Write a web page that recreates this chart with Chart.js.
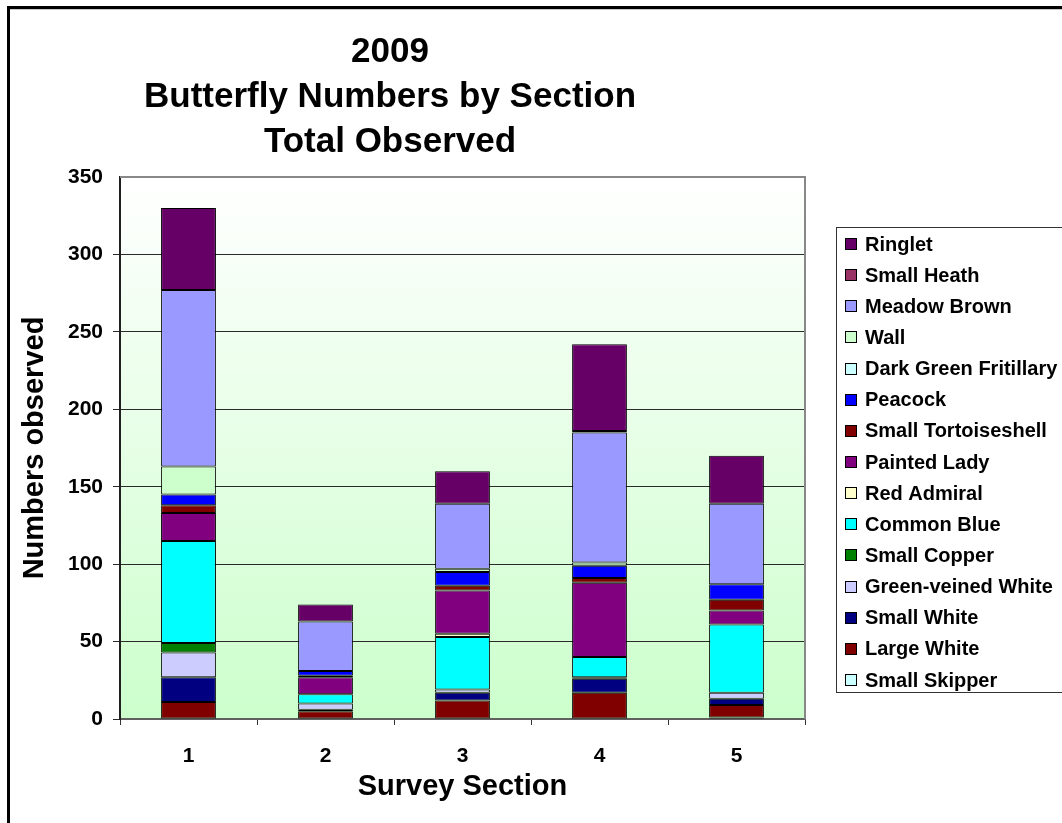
<!DOCTYPE html>
<html>
<head>
<meta charset="utf-8">
<title>2009 Butterfly Numbers by Section</title>
<script src="https://cdn.jsdelivr.net/npm/chart.js@4.4.1/dist/chart.umd.min.js"></script>
<style>
  html, body { margin: 0; padding: 0; background: #ffffff; }
  #wrap { position: relative; width: 1062px; height: 823px; }
  canvas { display: block; }
</style>
</head>
<body>
<div id="wrap"><canvas id="chart" width="1062" height="823"></canvas></div>
<script>
// Survey sections (x categories)
const sections = ['1', '2', '3', '4', '5'];

// Counts per species, listed from the bottom of each stack upwards
const smallSkipper        = [0, 0, 0, 0, 1];
const largeWhite          = [11, 5, 12, 17, 8];
const smallWhite          = [16, 1, 5, 9, 4];
const greenVeinedWhite    = [16, 4, 2, 1, 4];
const smallCopper         = [6, 0, 0, 0, 0];
const commonBlue          = [66, 6, 34, 13, 44];
const redAdmiral          = [0, 0, 2, 0, 0];
const paintedLady         = [18, 11, 28, 48, 9];
const smallTortoiseshell  = [5, 1, 3, 3, 7];
const peacock             = [7, 3, 9, 8, 10];
const darkGreenFritillary = [0, 0, 0, 0, 0];
const wall                = [18, 0, 2, 2, 0];
const meadowBrown         = [114, 32, 42, 84, 52];
const smallHeath          = [0, 0, 0, 1, 0];
const ringlet             = [53, 11, 21, 56, 31];

// Y axis ticks
const yTicks = [0, 50, 100, 150, 200, 250, 300, 350];

const titleLines = ['2009', 'Butterfly Numbers by Section', 'Total Observed'];
const yAxisTitle = 'Numbers observed';
const xAxisTitle = 'Survey Section';

const FONT = '"Liberation Sans", Arial, Helvetica, sans-serif';

const series = [
  { label: 'Small Skipper',         data: smallSkipper,        color: '#CCFFFF' },
  { label: 'Large White',           data: largeWhite,          color: '#800000' },
  { label: 'Small White',           data: smallWhite,          color: '#000080' },
  { label: 'Green-veined White',    data: greenVeinedWhite,    color: '#CCCCFF' },
  { label: 'Small Copper',          data: smallCopper,         color: '#008000' },
  { label: 'Common Blue',           data: commonBlue,          color: '#00FFFF' },
  { label: 'Red Admiral',           data: redAdmiral,          color: '#FFFFCC' },
  { label: 'Painted Lady',          data: paintedLady,         color: '#800080' },
  { label: 'Small Tortoiseshell',   data: smallTortoiseshell,  color: '#800000' },
  { label: 'Peacock',               data: peacock,             color: '#0000FF' },
  { label: 'Dark Green Fritillary', data: darkGreenFritillary, color: '#CCFFFF' },
  { label: 'Wall',                  data: wall,                color: '#CCFFCC' },
  { label: 'Meadow Brown',          data: meadowBrown,         color: '#9999FF' },
  { label: 'Small Heath',           data: smallHeath,          color: '#993366' },
  { label: 'Ringlet',               data: ringlet,             color: '#660066' }
];

const datasets = series.map(s => ({
  label: s.label,
  data: s.data,
  backgroundColor: s.color,
  borderColor: '#000000',
  borderWidth: 1,
  borderSkipped: false,
  categoryPercentage: 1.0,
  barPercentage: 0.4
}));

// Page frame, plot background gradient and plot frame
const framePlugin = {
  id: 'frame',
  beforeDraw(chart) {
    const ctx = chart.ctx;
    const a = chart.chartArea;
    ctx.save();
    ctx.fillStyle = '#ffffff';
    ctx.fillRect(0, 0, chart.width, chart.height);
    const g = ctx.createLinearGradient(0, a.top, 0, a.bottom);
    g.addColorStop(0, '#FFFFFF');
    g.addColorStop(1, '#CCFFCC');
    ctx.fillStyle = g;
    ctx.fillRect(a.left, a.top, a.right - a.left, a.bottom - a.top);
    ctx.restore();
  },
  afterDraw(chart) {
    const ctx = chart.ctx;
    const a = chart.chartArea;
    ctx.save();
    // plot frame (top and right)
    ctx.strokeStyle = '#888888';
    ctx.lineWidth = 2;
    ctx.beginPath();
    ctx.moveTo(a.left, a.top);
    ctx.lineTo(a.right, a.top);
    ctx.lineTo(a.right, a.bottom);
    ctx.stroke();
    // outer frame
    ctx.strokeStyle = '#C8C8C8';
    ctx.lineWidth = 1;
    ctx.beginPath();
    ctx.moveTo(10, 9.5);
    ctx.lineTo(chart.width, 9.5);
    ctx.stroke();
    ctx.fillStyle = '#000000';
    ctx.fillRect(7, 6, chart.width - 7, 3);
    ctx.fillRect(7, 6, 3, chart.height - 6);
    ctx.restore();
  }
};

// Three-line heading
const headingPlugin = {
  id: 'heading',
  afterDraw(chart) {
    const ctx = chart.ctx;
    ctx.save();
    ctx.fillStyle = '#000000';
    ctx.font = 'bold 35px ' + FONT;
    ctx.textAlign = 'center';
    ctx.textBaseline = 'middle';
    const ys = [52, 97, 142];
    titleLines.forEach((t, i) => ctx.fillText(t, 390, ys[i]));
    ctx.restore();
  }
};

// Boxed legend, top entry = top of stack
const legendPlugin = {
  id: 'boxLegend',
  afterDraw(chart) {
    const ctx = chart.ctx;
    const left = 836.5, top = 227.5, bottom = 692.5;
    ctx.save();
    ctx.fillStyle = '#ffffff';
    ctx.fillRect(left, top, chart.width - left, bottom - top);
    ctx.strokeStyle = '#333333';
    ctx.lineWidth = 1;
    ctx.strokeRect(left, top, chart.width - left + 5, bottom - top);
    ctx.font = 'bold 20px ' + FONT;
    ctx.textBaseline = 'middle';
    ctx.textAlign = 'left';
    const ds = chart.data.datasets.slice().reverse();
    const step = (680 - 244) / (ds.length - 1);
    ds.forEach((d, i) => {
      const cy = 244 + i * step;
      const y0 = Math.round(cy - 6);
      ctx.fillStyle = d.backgroundColor;
      ctx.fillRect(845, y0, 12, 12);
      ctx.strokeStyle = '#000000';
      ctx.strokeRect(845.5, y0 + 0.5, 11, 11);
      ctx.fillStyle = '#000000';
      ctx.fillText(d.label, 865, cy + 1);
    });
    ctx.restore();
  }
};

new Chart(document.getElementById('chart'), {
  type: 'bar',
  data: { labels: sections, datasets },
  options: {
    responsive: false,
    animation: false,
    devicePixelRatio: 1,
    layout: { padding: { top: 177, right: 257, bottom: 0, left: 0 } },
    plugins: {
      legend: { display: false },
      title: { display: false },
      tooltip: { enabled: false }
    },
    scales: {
      x: {
        stacked: true,
        grid: {
          offset: true,
          drawOnChartArea: false,
          drawTicks: true,
          tickLength: 6,
          color: '#333333',
          lineWidth: 1
        },
        border: { display: true, color: '#606060', width: 2 },
        ticks: {
          color: '#000000',
          font: { family: FONT, size: 21, weight: 'bold' },
          padding: 19
        },
        title: {
          display: true,
          text: xAxisTitle,
          color: '#000000',
          font: { family: FONT, size: 29, weight: 'bold' },
          padding: { top: 0, bottom: 19 }
        },
        afterFit(scale) { scale.height = 104; }
      },
      y: {
        stacked: true,
        min: 0,
        max: 350,
        afterBuildTicks(scale) { scale.ticks = yTicks.map(v => ({ value: v })); },
        grid: {
          drawTicks: true,
          tickLength: 7,
          color: ctx => (ctx.tick && ctx.tick.value === 350) ? 'rgba(0,0,0,0)' : '#2a2a2a',
          lineWidth: 1
        },
        border: { display: true, color: '#202020', width: 2 },
        ticks: {
          color: '#000000',
          font: { family: FONT, size: 21, weight: 'bold' },
          padding: 10
        },
        title: {
          display: true,
          text: yAxisTitle,
          color: '#000000',
          font: { family: FONT, size: 29, weight: 'bold' },
          padding: { top: 18, bottom: 0 }
        },
        afterFit(scale) { scale.width = 120; }
      }
    }
  },
  plugins: [framePlugin, headingPlugin, legendPlugin]
});
</script>
</body>
</html>
